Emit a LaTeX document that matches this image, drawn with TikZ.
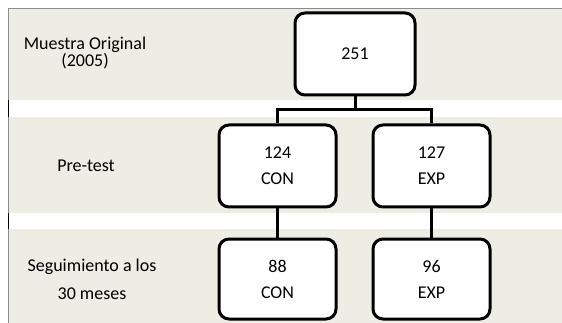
\documentclass[tikz,border=0pt]{standalone}
\usepackage{fontspec}
\setmainfont{Carlito}
\definecolor{bandbg}{HTML}{EEEDE3}
\definecolor{borderg}{HTML}{8C8C8C}
\tikzset{
  band/.style={fill=bandbg, draw=none},
  box/.style={draw=black, line width=3pt, rounded corners=10pt, fill=white,
    minimum width=117pt, minimum height=80pt, inner sep=0pt, align=center,
    font=\fontsize{18}{26}\selectfont},
  lbl/.style={align=center, inner sep=0pt, font=\fontsize{18}{17}\selectfont},
  conn/.style={draw=black, line width=3pt},
}
\begin{document}
\begin{tikzpicture}[x=1pt,y=-1pt]
\useasboundingbox (0,0) rectangle (562,323);
% bands
\fill[band] (8.5,9.5) rectangle (562,100.5);
\fill[band] (8.5,117) rectangle (562,213.5);
\fill[band] (8.5,229) rectangle (562,323);
% borders
\draw[borderg, line width=1pt] (8,9) -- (562,9);
\draw[borderg, line width=1pt] (8,9) -- (8,323);
\draw[black, line width=1.5pt] (8.5,100.5) -- (8.5,117);
\draw[black, line width=1.5pt] (8.5,213.5) -- (8.5,229);
% row labels
\node[lbl] (l1) at (85,53) {Muestra Original\\(2005)};
\node[lbl] (l2) at (86,166) {Pre-test};
\node[lbl, font=\fontsize{18}{28}\selectfont] (l3) at (92,279) {Seguimiento a los\\30 meses};
% boxes
\node[box, minimum width=120pt, minimum height=82pt] (b0) at (355,54) {\raisebox{-7.5pt}{251}};
\node[box, minimum height=82pt] (b1) at (277.5,166) {124\\CON};
\node[box, minimum height=82pt] (b2) at (431.5,166) {127\\EXP};
\node[box] (b3) at (277.5,279) {88\\CON};
\node[box] (b4) at (431.5,279) {96\\EXP};
% connectors
\coordinate (j) at (355,110);
\draw[conn] (b0.south) -- (j);
\draw[conn] (b1.north) |- (j) -| (b2.north);
\draw[conn] (b1.south) -- (b3.north);
\draw[conn] (b2.south) -- (b4.north);
\end{tikzpicture}
\end{document}
